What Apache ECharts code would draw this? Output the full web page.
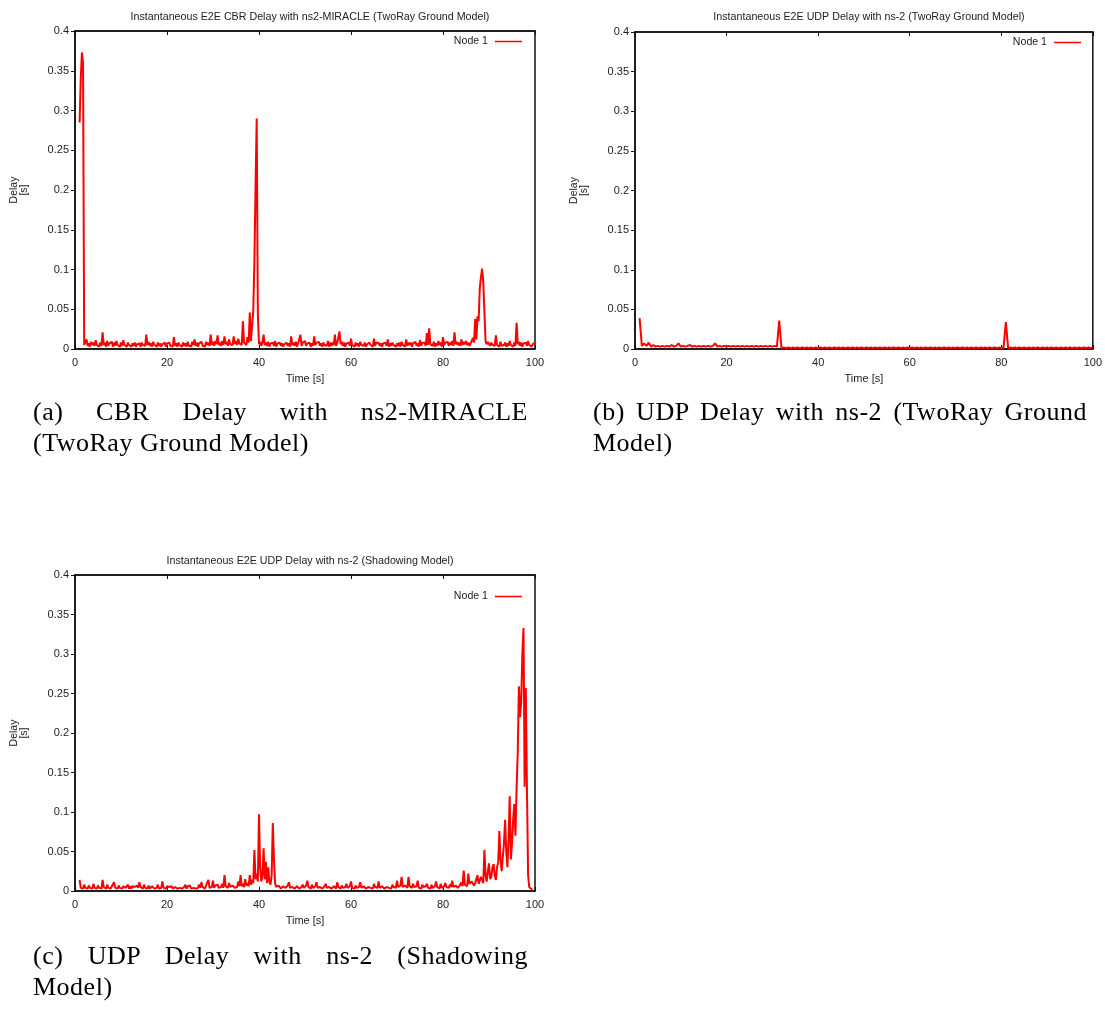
<!DOCTYPE html>
<html><head><meta charset="utf-8">
<script src="https://cdn.jsdelivr.net/npm/echarts@6/dist/echarts.min.js"></script>
<style>
html,body{margin:0;padding:0;background:#fff;}
#chart{position:absolute;left:0;top:0;width:1105px;height:1028px;}
.cap{position:absolute;font-family:"Liberation Serif","Times New Roman",serif;font-size:26px;line-height:31px;color:#000;white-space:nowrap;letter-spacing:0.5px;}
.just{text-align:justify;text-align-last:justify;white-space:normal;}
</style></head><body>
<div id="chart"></div>
<div class="cap just" style="left:33px;top:396px;width:495px;">(a) CBR Delay with ns2-MIRACLE</div>
<div class="cap" style="left:33px;top:427px;">(TwoRay Ground Model)</div>
<div class="cap just" style="left:593px;top:396px;width:494px;">(b) UDP Delay with ns-2 (TwoRay Ground</div>
<div class="cap" style="left:593px;top:427px;">Model)</div>
<div class="cap just" style="left:33px;top:940px;width:495px;">(c) UDP Delay with ns-2 (Shadowing</div>
<div class="cap" style="left:33px;top:971px;">Model)</div>
<script>
// Titles / labels
const titles = [
  'Instantaneous E2E CBR Delay with ns2-MIRACLE (TwoRay Ground Model)',
  'Instantaneous E2E UDP Delay with ns-2 (TwoRay Ground Model)',
  'Instantaneous E2E UDP Delay with ns-2 (Shadowing Model)'
];
const seriesName = 'Node 1';
const xName = 'Time [s]';
const yName = 'Delay\n[s]';
const xTicks = [0, 20, 40, 60, 80, 100];
const yTicks = [0, 0.05, 0.1, 0.15, 0.2, 0.25, 0.3, 0.35, 0.4];

// Samples; each series starts at t = 1.0 s
const sampleStart = 1.0;
const stepA = 0.25, stepB = 0.5, stepC = 0.25;

// (a) CBR delay, ns2-MIRACLE, TwoRay Ground  (one value every 0.25 s)
const delayA = [
  .285,.340,.373,.360,.005,.009,.012,.004,.007,.003,.009,.005,.008,.004,.011,.005,.007,.003,.008,.004,
  .021,.005,.008,.003,.010,.004,.007,.005,.009,.003,.008,.004,.010,.005,.006,.003,.008,.004,.011,.005,
  .007,.003,.008,.005,.006,.003,.007,.004,.008,.003,.006,.004,.007,.003,.008,.005,.006,.004,.018,.005,
  .009,.004,.007,.003,.009,.005,.006,.003,.008,.004,.007,.003,.006,.004,.008,.003,.007,.005,.008,.004,
  .006,.003,.015,.004,.007,.003,.008,.005,.006,.003,.008,.004,.007,.003,.009,.004,.006,.003,.009,.005,
  .012,.004,.008,.003,.007,.005,.009,.004,.006,.003,.009,.005,.008,.004,.018,.005,.009,.004,.010,.006,
  .017,.005,.008,.004,.010,.005,.016,.006,.009,.004,.012,.006,.008,.005,.016,.006,.010,.005,.013,.007,
  .009,.005,.035,.008,.010,.005,.015,.008,.046,.010,.012,.048,.110,.205,.290,.045,.006,.009,.004,.008,
  .018,.005,.008,.004,.009,.003,.007,.005,.008,.004,.010,.003,.007,.005,.008,.004,.007,.003,.006,.005,
  .008,.004,.007,.003,.016,.005,.008,.004,.009,.003,.007,.005,.018,.004,.008,.006,.010,.004,.007,.005,
  .008,.003,.007,.004,.016,.005,.008,.006,.009,.004,.007,.003,.008,.005,.006,.004,.010,.003,.008,.004,
  .008,.005,.018,.004,.007,.005,.022,.006,.009,.004,.008,.003,.007,.005,.008,.004,.013,.005,.007,.003,
  .008,.004,.007,.003,.009,.005,.007,.004,.008,.003,.006,.004,.008,.005,.007,.003,.013,.004,.008,.006,
  .008,.004,.007,.003,.007,.005,.008,.004,.012,.003,.007,.004,.008,.005,.006,.003,.007,.004,.008,.003,
  .009,.005,.007,.003,.012,.004,.008,.005,.008,.003,.007,.005,.009,.004,.007,.003,.011,.004,.008,.006,
  .008,.004,.020,.005,.026,.006,.008,.004,.009,.003,.007,.004,.010,.005,.008,.003,.015,.005,.008,.006,
  .009,.004,.008,.005,.010,.004,.021,.006,.009,.005,.008,.004,.012,.005,.009,.006,.010,.005,.008,.004,
  .006,.010,.014,.008,.038,.012,.041,.035,.077,.090,.101,.085,.047,.010,.006,.009,.010,.004,.008,.005,
  .006,.004,.017,.005,.007,.003,.009,.004,.006,.005,.008,.003,.007,.004,.010,.005,.007,.003,.008,.004,
  .033,.006,.009,.004,.008,.003,.007,.005,.008,.004,.010,.005,.007,.003,.006,.004,.008
];

// (b) UDP delay, ns-2, TwoRay Ground  (one value every 0.5 s)
const delayB = [
  .039,.004,.007,.004,.008,.003,.005,.003,.004,.003,
  .004,.003,.004,.003,.005,.003,.004,.007,.003,.004,
  .003,.004,.005,.003,.004,.003,.004,.003,.004,.003,
  .004,.003,.004,.007,.003,.004,.003,.004,.003,.004,
  .003,.004,.003,.004,.003,.004,.003,.004,.003,.004,
  .003,.004,.003,.004,.003,.004,.003,.004,.003,.004,
  .003,.036,.001,.002,.001,.002,.001,.002,.001,.002,
  .001,.002,.001,.002,.001,.002,.001,.002,.001,.002,
  .001,.002,.001,.002,.001,.002,.001,.002,.001,.002,
  .001,.002,.001,.002,.001,.002,.001,.002,.001,.002,
  .001,.002,.001,.002,.001,.002,.001,.002,.001,.002,
  .001,.002,.001,.002,.001,.002,.001,.002,.001,.002,
  .001,.002,.001,.002,.001,.002,.001,.002,.001,.002,
  .001,.002,.001,.002,.001,.002,.001,.002,.001,.002,
  .001,.002,.001,.002,.001,.002,.001,.002,.001,.002,
  .001,.002,.001,.002,.001,.002,.001,.002,.001,.002,
  .034,.001,.002,.001,.002,.001,.002,.001,.002,.001,
  .002,.001,.002,.001,.002,.001,.002,.001,.002,.001,
  .002,.001,.002,.001,.002,.001,.002,.001,.002,.001,
  .002,.001,.002,.001,.002,.001,.002,.001,.002
];

// (c) UDP delay, ns-2, Shadowing  (one value every 0.25 s)
const delayC = [
  .014,.004,.006,.003,.008,.004,.005,.003,.007,.004,.006,.003,.009,.004,.006,.003,.007,.004,.006,.003,
  .014,.005,.007,.003,.008,.004,.006,.003,.006,.004,.011,.004,.005,.003,.007,.004,.006,.003,.006,.004,
  .004,.006,.008,.003,.006,.003,.006,.004,.005,.003,.007,.004,.011,.005,.004,.003,.008,.004,.006,.003,
  .007,.003,.004,.006,.006,.003,.005,.004,.008,.003,.005,.004,.012,.004,.006,.003,.006,.004,.005,.003,
  .006,.003,.004,.005,.007,.003,.005,.004,.006,.003,.004,.005,.008,.003,.006,.004,.007,.003,.005,.004,
  .006,.003,.005,.004,.008,.004,.011,.005,.004,.003,.007,.005,.014,.004,.006,.005,.013,.004,.007,.005,
  .008,.004,.006,.005,.009,.004,.020,.006,.006,.004,.010,.005,.005,.007,.009,.004,.006,.005,.012,.006,
  .020,.006,.009,.005,.015,.007,.010,.006,.020,.008,.014,.010,.052,.015,.022,.012,.097,.030,.012,.020,
  .054,.015,.037,.010,.030,.012,.008,.020,.086,.040,.010,.005,.004,.007,.008,.003,.003,.006,.006,.004,
  .004,.007,.011,.004,.003,.005,.007,.003,.004,.006,.006,.003,.003,.005,.008,.004,.004,.007,.013,.005,
  .005,.003,.008,.004,.004,.006,.011,.004,.003,.005,.007,.003,.004,.006,.009,.004,.003,.005,.006,.003,
  .004,.006,.008,.003,.011,.005,.004,.003,.007,.004,.003,.005,.009,.004,.004,.006,.012,.004,.005,.003,
  .007,.004,.003,.005,.011,.004,.004,.006,.008,.003,.003,.005,.006,.004,.004,.003,.009,.005,.003,.004,
  .012,.004,.004,.006,.007,.003,.003,.005,.006,.004,.004,.003,.008,.005,.003,.004,.013,.005,.005,.007,
  .018,.005,.005,.007,.008,.004,.018,.006,.006,.004,.009,.005,.004,.006,.013,.004,.005,.003,.008,.005,
  .004,.006,.009,.004,.005,.003,.008,.004,.004,.006,.012,.005,.005,.003,.009,.004,.004,.006,.010,.005,
  .006,.004,.008,.005,.013,.005,.005,.007,.009,.004,.006,.008,.011,.006,.026,.008,.010,.006,.022,.009,
  .009,.012,.014,.007,.010,.015,.020,.009,.008,.018,.016,.010,.052,.020,.012,.025,.035,.015,.018,.030,
  .034,.020,.014,.030,.036,.076,.040,.025,.043,.060,.090,.050,.030,.065,.120,.040,.060,.090,.110,.070,
  .130,.175,.259,.220,.240,.300,.333,.132,.257,.130,.020,.005,.003,.002,.002
];

const FONT = '"Liberation Sans", Arial, Helvetica, sans-serif';
const TXT = '#222';
const RED = '#ff0000';

function pairs(arr, step) {
  return arr.map((v, i) => [sampleStart + i * step, v]);
}

const panels = [
  { data: delayA, step: stepA, grid: { left: 75, top: 31, width: 460, height: 318 }, titleX: 305, titleY: 7, legendRight: 578, legendTop: 31 },
  { data: delayB, step: stepB, grid: { left: 635, top: 32, width: 459, height: 317 }, titleX: 864, titleY: 7, legendRight: 19, legendTop: 32 },
  { data: delayC, step: stepC, grid: { left: 75, top: 575, width: 460, height: 316 }, titleX: 305, titleY: 551, legendRight: 578, legendTop: 586 }
];

const option = {
  animation: false,
  backgroundColor: 'transparent',
  color: [RED],
  title: [], legend: [], grid: [], xAxis: [], yAxis: [], series: []
};

panels.forEach((p, i) => {
  option.title.push({
    text: titles[i], left: p.titleX, top: p.titleY, textAlign: 'center',
    textStyle: { fontSize: 10.7, fontWeight: 'normal', color: TXT, fontFamily: FONT }
  });
  option.legend.push({
    data: [seriesName], right: p.legendRight, top: p.legendTop, align: 'right',
    icon: 'rect', itemWidth: 27, itemHeight: 1.5, itemGap: 5,
    textStyle: { fontSize: 10.6, color: TXT, fontFamily: FONT, padding: [0, 2, 0, 0] }
  });
  option.grid.push(Object.assign({ show: true, borderColor: '#111', borderWidth: 1.5, backgroundColor: 'transparent' }, p.grid));
  option.xAxis.push({
    type: 'value', gridIndex: i, min: xTicks[0], max: xTicks[xTicks.length - 1], interval: xTicks[1] - xTicks[0],
    position: 'bottom', name: xName, nameLocation: 'middle', nameGap: 24,
    nameTextStyle: { fontSize: 11, color: TXT, fontFamily: FONT },
    axisLine: { show: true, lineStyle: { color: '#111', width: 1.5 } },
    axisTick: { show: true, inside: true, length: 4, lineStyle: { color: '#111' } },
    axisLabel: { fontSize: 11, color: TXT, fontFamily: FONT, margin: 8 },
    splitLine: { show: false }
  });
  option.xAxis.push({
    type: 'value', gridIndex: i, min: xTicks[0], max: xTicks[xTicks.length - 1], interval: xTicks[1] - xTicks[0],
    position: 'top',
    axisLine: { show: true, lineStyle: { color: '#111', width: 1.5 } },
    axisTick: { show: true, inside: true, length: 4, lineStyle: { color: '#111' } },
    axisLabel: { show: false }, splitLine: { show: false }
  });
  option.yAxis.push({
    type: 'value', gridIndex: i, min: yTicks[0], max: yTicks[yTicks.length - 1], interval: yTicks[1] - yTicks[0],
    name: yName, nameLocation: 'middle', nameRotate: 90, nameGap: 46,
    nameTextStyle: { fontSize: 10.5, color: TXT, fontFamily: FONT, lineHeight: 10 },
    axisLine: { show: true, lineStyle: { color: '#111', width: 1.5 } },
    axisTick: { show: true, inside: false, length: 4, lineStyle: { color: '#111' } },
    axisLabel: { fontSize: 11, color: TXT, fontFamily: FONT, margin: 6 },
    splitLine: { show: false }
  });
  option.series.push({
    name: seriesName, type: 'line', xAxisIndex: 2 * i, yAxisIndex: i,
    data: pairs(p.data, p.step), showSymbol: false, symbol: 'none',
    lineStyle: { color: RED, width: 2 }, itemStyle: { color: RED }, z: 1
  });
});

const chart = echarts.init(document.getElementById('chart'));
chart.setOption(option);
</script>
</body></html>
